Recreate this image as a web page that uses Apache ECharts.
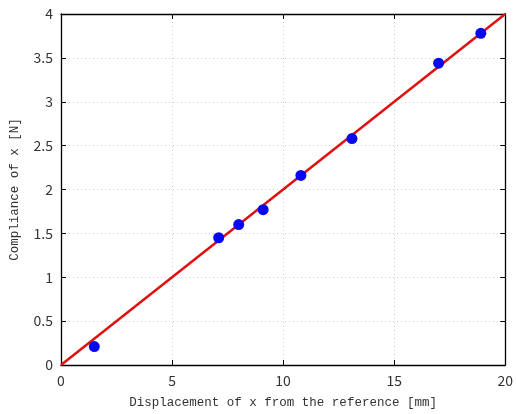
<!DOCTYPE html>
<html><head><meta charset="utf-8">
<script src="https://cdn.jsdelivr.net/npm/echarts@6/dist/echarts.min.js"></script>
<style>html,body{margin:0;padding:0;background:#fff}#c{width:516px;height:414px}</style>
</head><body><div id="c"></div>
<script>
const pointX = [1.5, 7.1, 8.0, 9.1, 10.8, 13.1, 17.0, 18.9];
const pointY = [0.21, 1.45, 1.6, 1.77, 2.16, 2.58, 3.44, 3.78];
const fitX = [0, 20];
const fitY = [0, 4];
const xTitle = 'Displacement of x from the reference [mm]';
const yTitle = 'Compliance of x [N]';

const chart = echarts.init(document.getElementById('c'));
const labelFont = {color:'#333', fontSize:14, fontFamily:'Noto Sans CJK JP'};
const tickIn = {show:true, inside:true, length:5, lineStyle:{color:'#000'}};
const baseLine = {show:true, onZero:false, lineStyle:{color:'#000', width:1.3}};
const gridLine = {show:true, lineStyle:{color:'#cfcfcf', type:[1,3], width:1}};
chart.setOption({
  animation:false,
  grid:{left:59, right:7, top:14, bottom:45, containLabel:false},
  xAxis:[{
    type:'value', min:0, max:20, interval:5,
    axisLine:baseLine, axisTick:tickIn, splitLine:gridLine,
    axisLabel:Object.assign({margin:9}, labelFont),
    name:xTitle, nameLocation:'middle', nameGap:31,
    nameTextStyle:{color:'#333', fontSize:12.5, fontFamily:'Liberation Mono'}
  },{
    type:'value', position:'top', min:0, max:20, interval:5,
    axisLine:baseLine, axisTick:tickIn, splitLine:{show:false}, axisLabel:{show:false}
  }],
  yAxis:[{
    type:'value', min:0, max:4, interval:0.5,
    axisLine:baseLine, axisTick:tickIn, splitLine:gridLine,
    axisLabel:Object.assign({margin:8}, labelFont),
    name:yTitle, nameLocation:'middle', nameGap:40,
    nameTextStyle:{color:'#333', fontSize:12.5, fontFamily:'Liberation Mono'}
  },{
    type:'value', position:'right', min:0, max:4, interval:0.5,
    axisLine:baseLine, axisTick:tickIn, splitLine:{show:false}, axisLabel:{show:false}
  }],
  series:[{
    type:'line', data:fitX.map((x,i)=>[x,fitY[i]]), symbol:'none',
    lineStyle:{color:'#e01010', width:2.5}, z:2
  },{
    type:'scatter', data:pointX.map((x,i)=>[x,pointY[i]]), symbolSize:11,
    itemStyle:{color:'#0808f0', opacity:1}, z:3
  }]
});
</script></body></html>
